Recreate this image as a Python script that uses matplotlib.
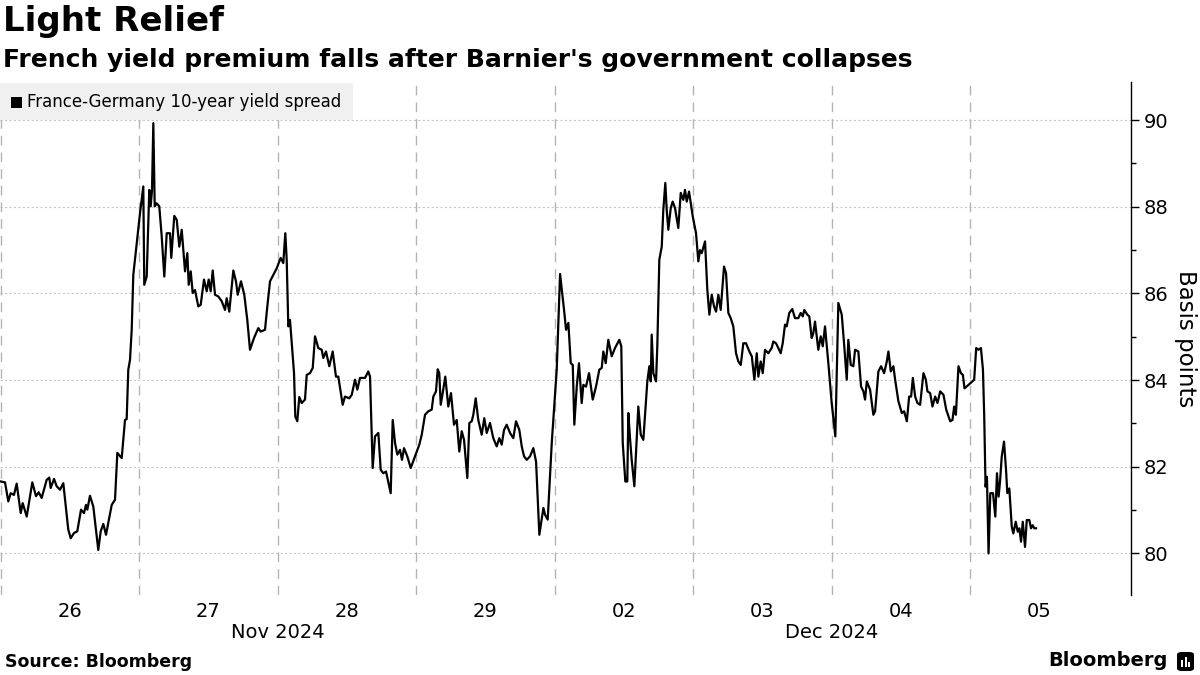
import matplotlib
matplotlib.use("Agg")
import matplotlib.pyplot as plt
from matplotlib.patches import Rectangle, FancyBboxPatch
from matplotlib.ticker import FixedLocator

plt.rcParams['font.family'] = ['DejaVu Sans']

# ---- data: hours since start of the first trading session (24 h per trading day)
hours = [
    0.0, 0.75, 1.32, 1.73, 2.30, 2.77, 3.47, 3.81, 4.51, 5.48, 6.12, 6.59, 7.10, 7.97, 8.42, 8.66,
    9.24, 9.70, 10.28, 10.85, 11.71, 12.13, 12.70, 13.27, 13.92, 14.43, 14.78, 15.01, 15.47, 16.05,
    16.91, 17.33, 17.78, 18.25, 19.24, 19.81, 20.21, 20.97, 21.54, 21.83, 22.11, 22.41, 22.70, 22.98,
    23.57, 24.14, 24.71, 24.88, 25.30, 25.75, 25.99, 26.22, 26.45, 26.69, 27.03, 27.48, 27.90, 28.35,
    28.77, 29.34, 29.56, 30.08, 30.50, 30.95, 31.37, 31.94, 32.34, 32.58, 32.93, 33.27, 33.67, 34.24,
    34.66, 35.23, 35.70, 36.04, 36.39, 36.74, 37.14, 37.71, 38.30, 38.87, 39.16, 39.61, 40.31, 40.77,
    41.07, 41.64, 42.21, 42.73, 43.20, 43.89, 44.64, 45.05, 45.80, 46.20, 46.67, 47.83, 48.52, 48.97,
    49.32, 49.56, 49.84, 50.13, 50.43, 50.83, 51.05, 51.40, 51.74, 52.16, 52.73, 53.03, 53.60, 54.07,
    54.47, 55.04, 55.63, 55.90, 56.37, 56.94, 57.53, 58.10, 58.50, 59.26, 59.66, 60.41, 60.83, 61.40,
    61.80, 62.26, 63.13, 63.70, 64.00, 64.46, 64.86, 65.44, 65.85, 66.30, 66.77, 67.58, 67.93, 68.33,
    68.73, 69.19, 69.54, 69.89, 70.46, 71.05, 71.80, 72.54, 72.96, 73.53, 74.10, 74.69, 74.97, 75.43,
    75.73, 76.00, 76.25, 76.59, 77.04, 77.56, 78.03, 78.55, 79.02, 79.47, 79.89, 80.29, 80.86, 81.21,
    81.62, 81.90, 82.31, 82.76, 83.35, 83.80, 84.22, 84.79, 85.36, 85.95, 86.40, 86.82, 87.22, 87.68,
    88.26, 88.83, 89.30, 89.87, 90.29, 90.69, 91.16, 91.73, 92.30, 92.77, 93.34, 94.04, 94.33, 94.79,
    95.49, 96.35, 96.93, 97.62, 97.97, 98.37, 98.78, 99.13, 99.40, 99.82, 100.21, 100.68, 100.96,
    101.43, 101.95, 102.59, 103.16, 103.73, 104.15, 104.43, 104.84, 105.29, 105.88, 106.45, 107.20,
    107.54, 107.79, 108.24, 108.58, 108.76, 109.05, 109.34, 109.80, 110.49, 110.91, 111.36, 111.65,
    112.05, 112.40, 112.64, 112.81, 113.09, 113.56, 113.78, 114.13, 114.55, 114.82, 115.17, 115.41,
    115.69, 116.11, 116.45, 116.85, 117.42, 117.84, 118.29, 118.58, 118.88, 119.28, 119.92, 120.49,
    120.89, 121.18, 121.48, 122.05, 122.45, 122.80, 123.21, 123.61, 123.96, 124.36, 124.77, 125.34,
    125.69, 126.09, 126.50, 126.95, 127.42, 127.82, 128.24, 128.69, 129.16, 129.73, 130.15, 130.60,
    131.01, 131.29, 131.70, 132.05, 132.45, 133.02, 133.60, 133.88, 134.35, 134.75, 135.16, 135.51,
    135.91, 136.20, 136.65, 137.17, 137.64, 138.21, 138.63, 138.98, 139.25, 139.77, 140.12, 140.53,
    140.81, 141.11, 141.68, 142.10, 142.45, 142.84, 143.42, 144.00, 144.63, 145.15, 145.74, 146.14,
    146.61, 146.88, 147.30, 147.75, 148.05, 148.62, 149.09, 149.49, 149.78, 150.08, 150.65, 151.22,
    151.52, 152.09, 152.56, 153.08, 153.55, 153.83, 154.24, 154.69, 154.99, 155.56, 156.15, 156.55,
    157.02, 157.42, 157.76, 158.06, 158.46, 158.86, 159.32, 159.90, 160.31, 160.59, 161.06, 161.46,
    161.93, 162.33, 162.80, 163.37, 163.84, 164.53, 164.93, 165.22, 165.52, 165.97, 166.39, 166.73,
    167.01, 167.71, 168.69, 169.04, 169.44, 169.86, 170.21, 170.43, 170.66, 170.90, 171.18, 171.48,
    171.95, 172.35, 172.64, 172.92, 173.17, 173.46, 173.86, 174.21, 174.43, 174.78, 175.20, 175.47,
    175.89, 176.24, 176.52, 176.81, 177.11, 177.50, 177.80, 178.25, 178.54, 178.83, 179.11, 179.41,
]

spread_bp = [
    81.66, 81.64, 81.20, 81.39, 81.35, 81.61, 80.93, 81.16, 80.85, 81.64, 81.32, 81.41, 81.28, 81.70, 81.75, 81.51,
    81.72, 81.55, 81.47, 81.62, 80.55, 80.35, 80.47, 80.51, 81.01, 80.93, 81.12, 81.01, 81.33, 81.08,
    80.08, 80.51, 80.68, 80.43, 81.12, 81.24, 82.32, 82.20, 83.08, 83.10, 84.24, 84.47, 85.16, 86.43,
    87.16, 87.85, 88.47, 86.20, 86.39, 88.39, 88.01, 88.39, 89.93, 88.01, 88.08, 88.01, 87.32, 86.39,
    87.39, 87.39, 86.82, 87.79, 87.70, 87.08, 87.47, 86.51, 86.93, 86.20, 86.51, 86.01, 86.08, 85.70,
    85.74, 86.32, 86.05, 86.32, 86.05, 86.53, 85.97, 85.93, 85.82, 85.62, 85.89, 85.58, 86.53, 86.28,
    85.97, 86.28, 85.97, 85.39, 84.70, 84.97, 85.20, 85.12, 85.16, 85.70, 86.28, 86.58, 86.82, 86.70,
    87.39, 86.78, 85.24, 85.39, 84.85, 84.16, 83.16, 83.05, 83.61, 83.47, 83.55, 84.12, 84.16, 84.28,
    85.01, 84.74, 84.70, 84.51, 84.66, 84.32, 84.66, 84.08, 84.08, 83.43, 83.62, 83.58, 83.66, 84.01,
    83.78, 84.05, 84.05, 84.20, 84.08, 81.97, 82.70, 82.78, 81.93, 81.85, 81.89, 81.39, 83.08, 82.55,
    82.28, 82.39, 82.16, 82.43, 82.24, 81.97, 82.24, 82.51, 82.74, 83.20, 83.28, 83.32, 83.62, 83.74,
    84.25, 84.16, 83.43, 83.70, 84.08, 83.39, 83.70, 82.97, 83.08, 82.35, 82.82, 82.62, 81.74, 83.01,
    83.05, 83.20, 83.58, 83.08, 82.74, 83.12, 82.78, 83.01, 82.66, 82.47, 82.66, 82.51, 82.85, 82.97,
    82.78, 82.66, 83.05, 82.85, 82.47, 82.24, 82.16, 82.24, 82.43, 82.12, 80.43, 81.05, 80.89, 80.78,
    82.55, 84.24, 86.45, 85.62, 85.16, 85.32, 84.39, 84.35, 82.97, 83.85, 84.39, 83.47, 83.89,
    83.85, 84.16, 83.55, 83.85, 84.24, 84.28, 84.66, 84.39, 84.93, 84.55, 84.74, 84.93,
    84.78, 82.55, 81.66, 81.66, 83.24, 82.66, 82.16, 81.55, 83.39, 82.74, 82.62, 83.20,
    83.97, 84.32, 83.97, 85.05, 84.16, 83.97, 84.78, 86.78, 87.08, 87.93, 88.55, 87.93,
    87.47, 87.97, 88.12, 87.97, 87.51, 88.32, 88.16, 88.39, 88.12, 88.35, 87.78, 87.39,
    86.74, 87.00, 86.93, 87.20, 86.08, 85.51, 85.97, 85.70, 85.58, 85.97, 85.62, 86.62,
    86.47, 85.55, 85.43, 85.24, 84.62, 84.43, 84.35, 84.85, 84.85, 84.66, 84.55, 84.01,
    84.62, 84.08, 84.43, 84.16, 84.70, 84.62, 84.74, 84.89, 84.85, 84.74, 84.62, 84.85,
    85.28, 85.24, 85.55, 85.64, 85.43, 85.43, 85.55, 85.47, 85.62, 85.51, 85.47, 84.97,
    85.08, 85.35, 84.70, 85.01, 84.78, 85.24, 84.39, 83.47, 82.70, 85.78, 85.51, 84.85,
    84.01, 84.93, 84.35, 84.32, 84.70, 84.66, 83.85, 83.74, 83.55, 83.97, 83.78, 83.20,
    83.28, 84.20, 84.32, 84.16, 84.43, 84.66, 84.20, 84.32, 84.01, 83.51, 83.24, 83.28,
    83.05, 83.62, 83.62, 84.05, 83.62, 83.47, 83.43, 84.16, 84.01, 83.74, 83.70, 83.39,
    83.62, 83.47, 83.74, 83.66, 83.32, 83.05, 83.08, 83.39, 83.20, 84.32, 84.16, 84.12,
    83.81, 83.89, 84.01, 84.74, 84.70, 84.74, 84.24, 83.16, 81.54, 81.77, 80.00, 81.39,
    81.39, 80.85, 81.85, 81.31, 81.66, 82.23, 82.58, 81.93, 81.39, 81.50, 80.62, 80.46,
    80.73, 80.50, 80.58, 80.27, 80.73, 80.15, 80.77, 80.77, 80.58, 80.65, 80.58, 80.58,
]

day_labels = ["26", "27", "28", "29", "02", "03", "04", "05"]
month_labels = ["Nov 2024", "Dec 2024"]
month_label_pos = [2.0, 6.0]  # trading-day boundary under which each month label sits
y_ticks = [80, 82, 84, 86, 88, 90]
y_minor_ticks = [81, 83, 85, 87, 89]

title = "Light Relief"
subtitle = "French yield premium falls after Barnier's government collapses"
legend_label = "France-Germany 10-year yield spread"
source = "Source: Bloomberg"

# ---- figure
W, H = 1200, 675
fig = plt.figure(figsize=(12, 6.75), dpi=100)
ax = fig.add_axes([0.0, 80 / H, 1131 / W, (593 - 80) / H])

days = [h / 24.0 for h in hours]
ax.plot(days, spread_bp, color="black", lw=1.6, zorder=3)

ax.set_xlim(-0.005, 8.161)
ax.set_ylim(79.04, 90.88)

for s in ["left", "top", "bottom"]:
    ax.spines[s].set_visible(False)
ax.spines["right"].set_color("black")
ax.spines["right"].set_linewidth(1.0)

ax.yaxis.tick_right()
ax.set_yticks(y_ticks)
ax.yaxis.set_minor_locator(FixedLocator(y_minor_ticks))
ax.tick_params(axis="y", which="major", direction="out", length=6, width=1, labelsize=14,
               pad=3, colors="black")
ax.tick_params(axis="y", which="minor", direction="out", length=3.5, width=1)
ax.yaxis.set_label_position("right")
ax.set_ylabel("Basis points", rotation=270, fontsize=16.5, labelpad=21)

for v in y_ticks:
    ax.axhline(v, color="#c8c8c8", lw=0.8, ls=(0, (2, 2)), zorder=1)

n_days = len(day_labels)
for d in range(n_days):
    ax.axvline(d, color="#b4b4b4", lw=1.0, ls=(0, (7, 5)), zorder=1)

ax.set_xticks([d + 0.5 for d in range(n_days)])
ax.set_xticklabels(day_labels)
ax.tick_params(axis="x", length=0, labelsize=14, pad=5)

for lab, pos in zip(month_labels, month_label_pos):
    ax.text(pos, -0.055, lab, transform=ax.get_xaxis_transform(), ha="center", va="top",
            fontsize=14)

# legend box
fig.patches.append(Rectangle((0, 1 - 120 / H), 353 / W, 37 / H, transform=fig.transFigure,
                             facecolor="#f0f0f0", edgecolor="none", zorder=0))
fig.patches.append(Rectangle((11 / W, 1 - 108 / H), 11 / W, 11 / H, transform=fig.transFigure,
                             facecolor="black", edgecolor="none", zorder=5))
fig.text(27 / W, 1 - 102 / H, legend_label, ha="left", va="center", fontsize=12)
ax.set_facecolor("none")

# titles
fig.text(3 / W, 1 - 22 / H, title, ha="left", va="center", fontsize=24.5, fontweight="bold")
fig.text(3 / W, 1 - 60 / H, subtitle, ha="left", va="center", fontsize=18, fontweight="bold")

# footer
fig.text(5 / W, 1 - 662 / H, source, ha="left", va="center", fontsize=12.5, fontweight="bold")
fig.text(1168 / W, 1 - 661 / H, "Bloomberg", ha="right", va="center", fontsize=14,
         fontweight="bold")
fig.patches.append(FancyBboxPatch((1177 / W, 1 - 671 / H), 17 / W, 19 / H,
                                  boxstyle="round,pad=0,rounding_size=0.004",
                                  transform=fig.transFigure, facecolor="black",
                                  edgecolor="none"))
for i, hgt in enumerate([7, 10, 5]):
    fig.patches.append(Rectangle(((1181 + i * 3.5) / W, 1 - 667 / H), 2 / W, hgt / H,
                                 transform=fig.transFigure, facecolor="white",
                                 edgecolor="none"))

fig.savefig("out.png", dpi=100, facecolor="white")
